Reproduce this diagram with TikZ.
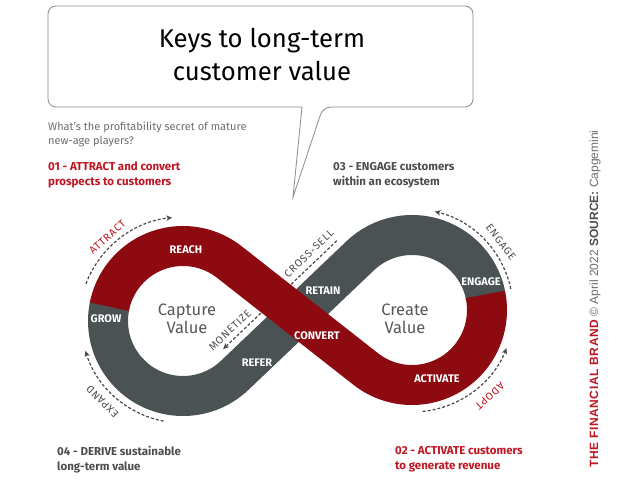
\documentclass[tikz,border=0pt]{standalone}
\usepackage{fontspec}
\setmainfont{Fira Sans}
\newfontfamily\credfont{Liberation Sans}
\newfontfamily\brandfont{Liberation Sans}[LetterSpace=5]
\newfontfamily\spacedfont{Fira Sans}[LetterSpace=8]
\usetikzlibrary{arrows.meta,calc}
\definecolor{bandred}{HTML}{8C0A10}
\definecolor{bandgray}{HTML}{4B5254}
\definecolor{txtred}{HTML}{BE1622}
\definecolor{txtgray}{HTML}{4D4D4D}
\definecolor{holegray}{HTML}{585858}
\definecolor{subgray}{HTML}{6E6E6E}
\definecolor{dashgray}{HTML}{4A4A4A}
\definecolor{bubblegray}{HTML}{8A8A8A}
\begin{document}
\begin{tikzpicture}[x=1pt,y=1pt,
  band/.style={line width=40pt},
  bandlabel/.style={text=white,font=\bfseries\fontsize{11}{12}\selectfont,inner sep=0pt},
  holetext/.style={text=holegray,font=\fontsize{16.5}{18}\selectfont,align=center,inner sep=0pt},
  dasharc/.style={draw=dashgray,line width=1.2pt,dash pattern=on 3pt off 2pt,-{Stealth[length=6pt,width=5.5pt]}},
  arclabel/.style={font=\spacedfont\fontsize{10.5}{11}\selectfont,inner sep=0pt},
  heading/.style={font=\bfseries\fontsize{11.5}{15}\selectfont,align=left,anchor=north west,inner sep=0pt}
]
\useasboundingbox (0,0) rectangle (620,485);
\fill[white] (0,0) rectangle (620,485);

% speech bubble
\draw[draw=bubblegray,line width=0.8pt,fill=white]
  (293,288) -- (302,378) [rounded corners=8pt] -- (48,378) -- (48,479) -- (473,479) -- (473,378) -- (323,378) [sharp corners] -- cycle;
\node[font=\fontsize{25.7}{33}\selectfont,align=center,anchor=north,inner sep=0pt] (title) at (262,457) {Keys to long-term\\customer value};

% intro text
\node[font=\fontsize{11}{14}\selectfont,text=subgray,align=left,anchor=north west,inner sep=0pt] (intro) at (48,363) {What’s the profitability secret of mature\\new-age players?};
\node[heading,text=txtred] (h1) at (48,323) {01 - ATTRACT and convert\\prospects to customers};
\node[heading,text=txtgray] (h3) at (333,323) {03 - ENGAGE customers\\within an ecosystem};
\node[heading,text=txtgray] (h4) at (57,39) {04 - DERIVE sustainable\\long-term value};
\node[heading,text=txtred] (h2) at (395,39) {02 - ACTIVATE customers\\to generate revenue};

% geometry
\coordinate (CL) at (183,164);
\coordinate (CR) at (412,175);
\coordinate (M) at (297.5,169.5);

% gray band
\draw[band,draw=bandgray] ($(CR)+(11:75)$) arc[start angle=11,end angle=133.62,radius=75]
  -- ($(CL)+(-46.38:75)$) arc[start angle=-46.38,end angle=-192,radius=75];

% central dashed line (under red band)
\draw[dasharc] ($(M)+(133.62:27)+(43.62:80)$) -- ($(M)+(133.62:27)+(43.62:-77)$);

% red band
\draw[band,draw=bandred] ($(CL)+(169:75)$) arc[start angle=169,end angle=51.88,radius=75]
  -- ($(CR)+(231.88:75)$) arc[start angle=231.88,end angle=372,radius=75];

% band labels
\node[bandlabel] (reach) at (186,235) {REACH};
\node[bandlabel] (grow) at (106,166) {GROW};
\node[bandlabel] (refer) at (257,122) {REFER};
\node[bandlabel] (convert) at (317,149) {CONVERT};
\node[bandlabel] (retain) at (323,194) {RETAIN};
\node[bandlabel] (engageb) at (481,203) {ENGAGE};
\node[bandlabel] (activate) at (437,106) {ACTIVATE};

\node[holetext] (capture) at (187,166) {Capture\\Value};
\node[holetext] (create) at (405,166) {Create\\Value};

% outer dashed arcs
\draw[dasharc] ($(CL)+(159:104)$) arc[start angle=159,end angle=96,radius=104];
\draw[dasharc] ($(CL)+(259:102)$) arc[start angle=259,end angle=197,radius=102];
\draw[dasharc] ($(CR)+(12:101)$) arc[start angle=12,end angle=77,radius=101];
\draw[dasharc] ($(CR)+(-84:102)$) arc[start angle=-84,end angle=-22,radius=102];

% outer labels
\node[arclabel,text=txtred,rotate=42] (attract) at ($(CL)+(132:113)$) {ATTRACT};
\node[arclabel,text=txtgray,rotate=135] (expand) at ($(CL)+(225:114)$) {EXPAND};
\node[arclabel,text=txtgray,rotate=-52.6] (engageo) at ($(CR)+(37.4:112)$) {ENGAGE};
\node[arclabel,text=txtred,rotate=-137.8] (adopt) at ($(CR)+(-47.8:116)$) {ADOPT};
\node[arclabel,text=txtgray,rotate=43.62] (crosssell) at ($(M)+(133.62:37)+(43.62:51)$) {CROSS-SELL};
\node[arclabel,text=txtgray,rotate=43.62] (monetize) at ($(M)+(133.62:36)+(43.62:-59)$) {MONETIZE};

% credit
\node[anchor=base west,rotate=90,inner sep=0pt,font=\credfont\fontsize{12}{13}\selectfont] (credit) at (598,17)
  {\textcolor{txtred}{\brandfont\bfseries THE FINANCIAL BRAND} \textcolor{subgray}{© April 2022} \textcolor{txtgray}{\bfseries SOURCE:} \textcolor{subgray}{Capgemini}};
\end{tikzpicture}
\end{document}
